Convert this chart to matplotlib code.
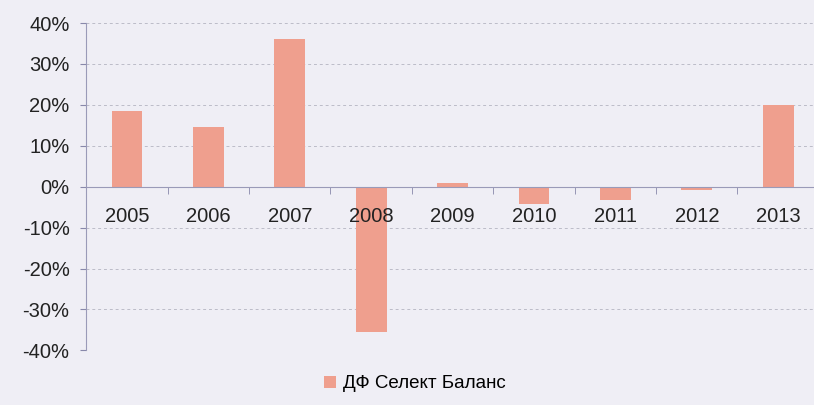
import matplotlib.pyplot as plt
import matplotlib.ticker as mticker
import numpy as np

###################################
years = ["2005", "2006", "2007", "2008", "2009", "2010", "2011", "2012", "2013"]
returns = [18.4, 14.5, 36.1, -35.6, 0.8, -4.3, -3.2, -0.9, 19.9]
series_name = "ДФ Селект Баланс"
y_ticks = [-40, -30, -20, -10, 0, 10, 20, 30, 40]
###################################

plt.rcParams['font.family'] = ['Liberation Sans', 'DejaVu Sans']

bg = "#efeef5"
bar_color = "#ef9f8e"

fig = plt.figure(figsize=(8.14, 4.05), dpi=100, facecolor=bg)
ax = fig.add_axes([0.106, 0.135, 0.9, 0.808], facecolor=bg)

x = np.arange(len(years))
ax.bar(x, returns, width=0.38, color=bar_color, label=series_name, zorder=3)

ax.set_xlim(-0.5, len(years) - 0.5)
ax.set_ylim(-40, 40)
ax.set_yticks(y_ticks)
ax.yaxis.set_major_formatter(mticker.FuncFormatter(lambda v, p: f"{int(v)}%"))

# gridlines
ax.grid(axis="y", color="#bcbcc8", linestyle=(0, (3, 3)), linewidth=0.7, zorder=0)

# spines: zero line as x axis
for s in ["top", "right"]:
    ax.spines[s].set_visible(False)
ax.spines["bottom"].set_position(("data", 0))
ax.spines["bottom"].set_color("#9a9ab8")
ax.spines["bottom"].set_zorder(4)
ax.spines["left"].set_color("#9a9ab8")

# year labels drawn over the bars, ticks between categories
ax.set_xticks(x)
ax.set_xticklabels([])
ax.tick_params(axis="x", which="major", length=0)
for xi, yr in zip(x, years):
    ax.text(xi, -5.0, yr, ha="center", va="top", fontsize=14.5, color="#222222", zorder=5)
ax.set_xticks(x[:-1] + 0.5, minor=True)
ax.tick_params(axis="x", which="minor", length=5, direction="out", color="#8888aa")
ax.tick_params(axis="y", length=4, color="#8888aa", labelsize=14.5, labelcolor="#222222", pad=8)

leg = fig.legend(loc="lower center", bbox_to_anchor=(0.51, -0.01), frameon=False,
                 fontsize=13.5, handlelength=0.6, handleheight=0.6, handletextpad=0.4)

fig.savefig("out.png", dpi=100, facecolor=bg)
